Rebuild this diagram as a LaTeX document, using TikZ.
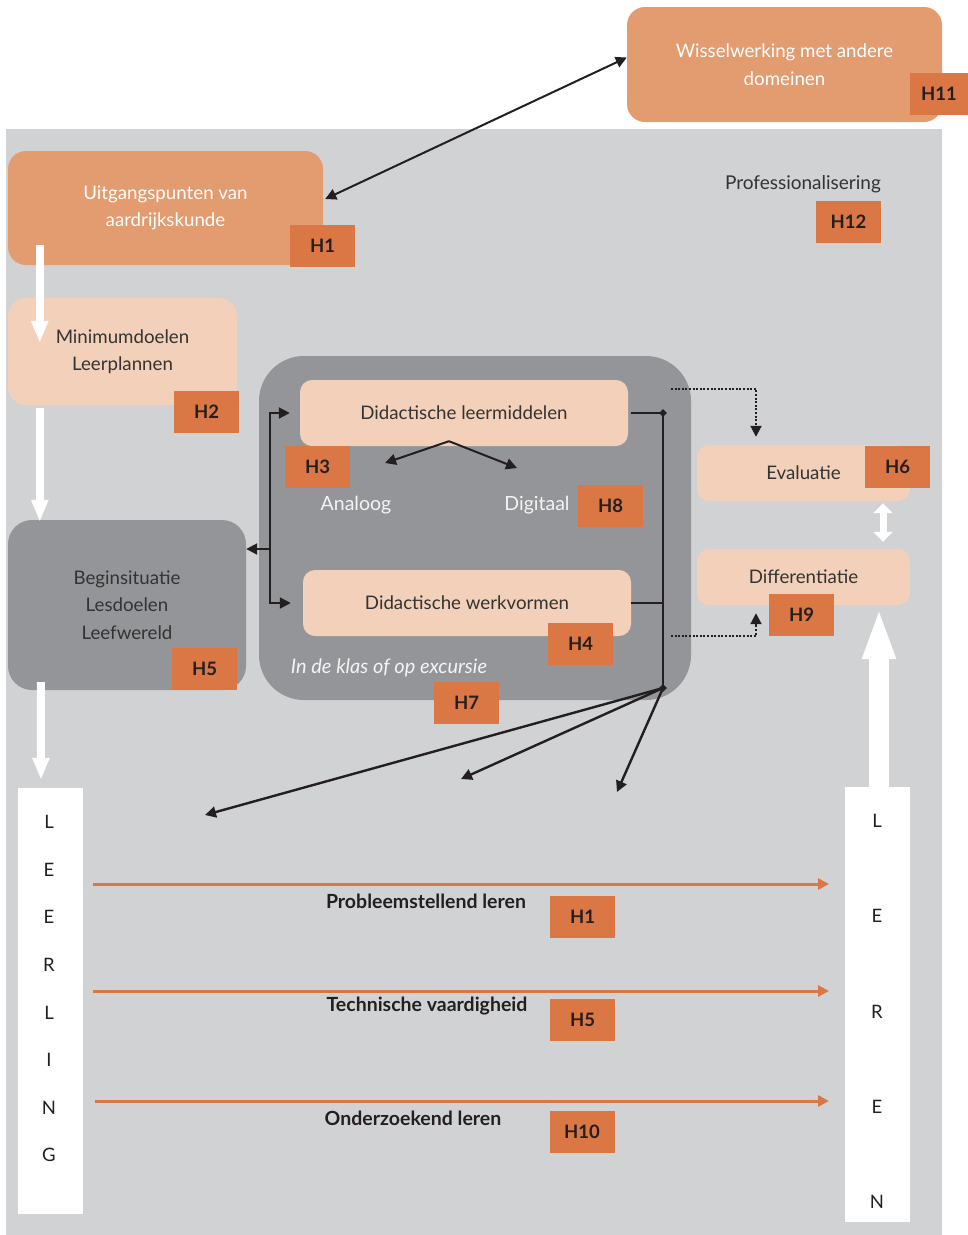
\documentclass[tikz,border=0pt]{standalone}
\usepackage{fontspec}
\setmainfont{Lato}
\usetikzlibrary{arrows.meta,calc,shapes.geometric}
\definecolor{bggrey}{HTML}{D1D2D4}
\definecolor{darkgrey}{HTML}{939598}
\definecolor{boxorange}{HTML}{E39B70}
\definecolor{peach}{HTML}{F3D0B9}
\definecolor{tagorange}{HTML}{DB7744}
\definecolor{ink}{HTML}{231F20}
\definecolor{softink}{HTML}{333333}
\definecolor{softwhite}{HTML}{F4F4F4}
\begin{document}
\begin{tikzpicture}[x=1pt,y=-1pt,
  txt/.style={font=\fontsize{18.7}{27.5}\selectfont, align=center, text=softink},
  bigbox/.style={rounded corners=18pt, inner sep=0pt, txt},
  tag/.style={fill=tagorange, minimum width=65pt, minimum height=42pt, inner sep=0pt,
    font=\fontsize{18.5}{20}\selectfont\bfseries, text=ink},
  blk/.style={draw=ink, line width=2pt, -{Triangle[length=11pt,width=11pt]}},
  plainline/.style={draw=ink, line width=2pt},
  dotarrow/.style={draw=ink, line width=2pt, dash pattern=on 2pt off 1.6pt, -{Triangle[length=11pt,width=11pt]}},
  wa/.style={draw=white, line width=8pt, -{Triangle[length=22pt,width=16pt]}},
  oarrow/.style={draw=tagorange, line width=3pt, -{Triangle[length=11pt,width=11pt]}},
  letter/.style={font=\fontsize{18.5}{20}\selectfont, text=ink},
  bold/.style={font=\fontsize{19.5}{22}\selectfont\bfseries, text=ink},
  knot/.style={diamond, fill=ink, inner sep=0pt, minimum size=8pt}
]
\useasboundingbox (0,0) rectangle (968,1235);
% background
\fill[bggrey] (6,129) rectangle (942,1235);

% top boxes
\node[bigbox, fill=boxorange, minimum width=315pt, minimum height=115pt, text=white] (wis) at (784.5,64.5) {Wisselwerking met andere\\domeinen};
\node[tag, minimum width=58pt] (h11) at (939,94) {H11};

\node[txt, font=\fontsize{19}{22}\selectfont] (prof) at (803,184) {Professionalisering};
\node[tag] (h12) at (848.5,221.5) {H12};

\node[bigbox, fill=boxorange, minimum width=315pt, minimum height=114pt, text=white] (uit) at (165.5,208) {Uitgangspunten van\\aardrijkskunde};
\node[tag] (h1) at (322.5,245.5) {H1};

\node[bigbox, fill=peach, minimum width=229pt, minimum height=107pt] (mind) at (122.5,351.5) {Minimumdoelen\\Leerplannen};
\node[tag] (h2) at (206.5,412) {H2};

\node[bigbox, fill=darkgrey, rounded corners=24pt, minimum width=238pt, minimum height=170pt] (beg) at (127,605) {Beginsituatie\\Lesdoelen\\Leefwereld};
\node[tag] (h5) at (204.5,669) {H5};

% central container
\node[fill=darkgrey, rounded corners=45pt, minimum width=432pt, minimum height=344pt, inner sep=0pt] (ctr) at (475,528) {};
\node[bigbox, fill=peach, rounded corners=12pt, minimum width=328pt, minimum height=66pt] (lm) at (464,413) {Didactische leermiddelen};
\node[tag] (h3) at (317.5,467) {H3};
\node[txt, text=softwhite, font=\fontsize{19.5}{22}\selectfont] (ana) at (356,505) {Analoog};
\node[txt, text=softwhite, font=\fontsize{19.5}{22}\selectfont] (dig) at (537,505) {Digitaal};
\node[tag] (h8) at (610.5,505.5) {H8};
\node[bigbox, fill=peach, rounded corners=12pt, minimum width=328pt, minimum height=66pt] (wv) at (467,603) {Didactische werkvormen};
\node[tag] (h4) at (580.5,644) {H4};
\node[txt, text=softwhite, font=\fontsize{20}{22}\selectfont\itshape] (klas) at (389,668) {In de klas of op excursie};
\node[tag] (h7) at (466.5,703) {H7};

% right boxes
\node[bigbox, fill=peach, rounded corners=12pt, minimum width=213pt, minimum height=56pt] (ev) at (803.5,473) {Evaluatie};
\node[tag] (h6) at (897.5,467) {H6};
\node[bigbox, fill=peach, rounded corners=12pt, minimum width=213pt, minimum height=56pt] (diff) at (803.5,577) {Differentiatie};
\node[tag] (h9) at (801.5,615) {H9};

% white columns
\node[fill=white, minimum width=65pt, minimum height=426pt, inner sep=0pt] (lcol) at (50.5,1001) {};
\node[fill=white, minimum width=65pt, minimum height=435pt, inner sep=0pt] (rcol) at (877.5,1004.5) {};
\foreach \l/\yy [count=\i] in {L/822,E/870,E/917,R/965,L/1013,I/1060,N/1108,G/1155}
  \node[letter] (ll\i) at (49,\yy) {\l};
\foreach \l/\yy [count=\i] in {L/821,E/916,R/1012,E/1107,N/1202}
  \node[letter] (rl\i) at (877,\yy) {\l};

% bottom rows
\coordinate (o1s) at (93,884);  \coordinate (o1e) at (829,884);
\coordinate (o2s) at (93,991);  \coordinate (o2e) at (829,991);
\coordinate (o3s) at (95,1101); \coordinate (o3e) at (829,1101);
\draw[oarrow] (o1s) -- (o1e);
\draw[oarrow] (o2s) -- (o2e);
\draw[oarrow] (o3s) -- (o3e);
\node[bold] (pl) at (426,901) {Probleemstellend leren};
\node[tag] (h1b) at (582.5,917) {H1};
\node[bold] (tv) at (427,1006) {Technische vaardigheid};
\node[tag] (h5b) at (582.5,1019.5) {H5};
\node[bold] (ol) at (413,1118) {Onderzoekend leren};
\node[tag] (h10) at (582,1132) {H10};

% white arrows
\draw[wa] ($(uit.south west)+(32,-20)$) -- ($(mind.north west)+(32,45)$);
\draw[wa] ($(mind.south west)+(32,3)$) -- ($(beg.north west)+(32,2)$);
\draw[wa] ($(beg.south west)+(33,-8)$) -- ($(lcol.north)+(-9.5,-8)$);
\draw[draw=white, line width=20pt, -{Triangle[length=52pt,width=30pt]}] ($(rcol.north)+(1.5,2)$) -- ($(rcol.north |- diff.south)+(1.5,2)$);
\draw[draw=white, line width=7pt, {Triangle[length=10pt,width=19pt]}-{Triangle[length=10pt,width=19pt]}] ($(ev.south)+(79.5,2)$) -- ($(diff.north)+(79.5,-7)$);

% link to Wisselwerking
\draw[draw=ink, line width=2pt, {Triangle[length=11pt,width=11pt]}-{Triangle[length=11pt,width=11pt]}] ($(uit.east)+(2,-9)$) -- ($(wis.west)+(0,-7)$);

% leermiddelen split
\coordinate (apex) at ($(lm.south)+(-15,-5)$);
\coordinate (anaT) at (385,463);
\coordinate (digT) at (517,468);
\draw[blk] (apex) -- (anaT);
\draw[blk] (apex) -- (digT);

% left bracket
\coordinate (brM) at (270,549);
\draw[blk, shorten >=10pt] (brM) |- (lm.west);
\draw[blk, shorten >=12pt] (brM) |- (wv.west);
\draw[blk] (brM) -- (beg.east |- brM);

% right collector
\coordinate (rv) at (663,688);
\coordinate (rvt) at (lm.east -| rv);
\coordinate (rvm) at (wv.east -| rv);
\draw[plainline, shorten <=3pt] (lm.east) -- (rvt);
\draw[plainline] (wv.east) -- (rvm);
\draw[plainline] (rvt) -- (rv);
\node[knot] at (rvt) {};
\node[knot] at (rv) {};
\coordinate (f1) at (205,815);
\coordinate (f2) at (461,779);
\coordinate (f3) at (617,792);
\draw[blk, line width=2.4pt] (rv) -- (f1);
\draw[blk, line width=2.4pt] (rv) -- (f2);
\draw[blk, line width=2.4pt] (rv) -- (f3);

% dotted to evaluatie / differentiatie
\coordinate (d1) at (671,389);
\coordinate (evin) at ($(ev.north)+(-47.5,-8)$);
\draw[dotarrow] (d1) -| (evin);
\coordinate (d2) at (671,636);
\coordinate (diffin) at ($(diff.south)+(-47.5,8)$);
\draw[dotarrow] (d2) -| (diffin);
\end{tikzpicture}
\end{document}
